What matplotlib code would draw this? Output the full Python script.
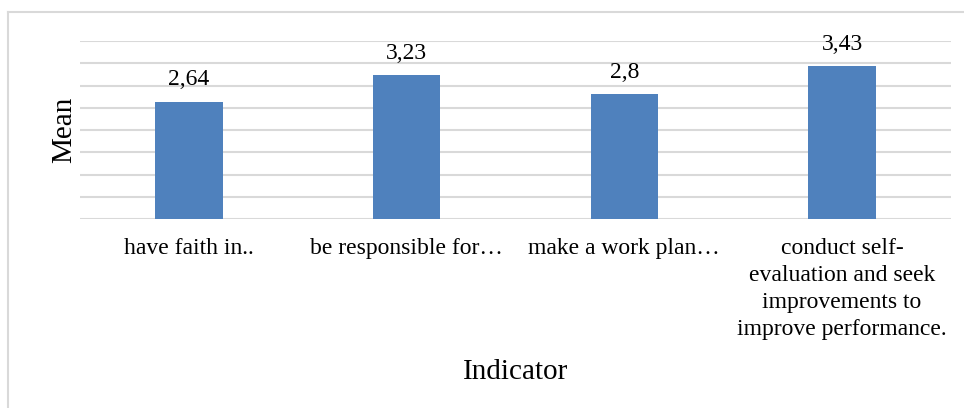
import matplotlib
matplotlib.use("Agg")
import matplotlib.pyplot as plt
from matplotlib.lines import Line2D

plt.rcParams["font.family"] = ["Liberation Serif", "DejaVu Serif"]

categories = [
    "have faith in..",
    "be responsible for…",
    "make a work plan…",
    "conduct self-\nevaluation and seek\nimprovements to\nimprove performance.",
]
means = [2.64, 3.23, 2.8, 3.43]
value_labels = ["2,64", "3,23", "2,8", "3,43"]

W, H = 964, 408
fig = plt.figure(figsize=(W / 100, H / 100), dpi=100)
fig.patch.set_facecolor("white")

# light outer frame (top and left edges visible)
frame_col = "#d9d9d9"
fig.add_artist(Line2D([8 / W, 8 / W], [0, 1 - 12 / H], transform=fig.transFigure,
                      color=frame_col, lw=1.5))
fig.add_artist(Line2D([8 / W, 1], [1 - 12 / H, 1 - 12 / H], transform=fig.transFigure,
                      color=frame_col, lw=1.5))

ax = fig.add_axes([80 / W, (H - 219) / H, (951 - 80) / W, (219 - 41) / H])
x = range(len(categories))
bars = ax.bar(x, means, width=0.31, color="#4f81bd", zorder=3)

for rect, txt in zip(bars, value_labels):
    ax.annotate(txt, (rect.get_x() + rect.get_width() / 2, rect.get_height()),
                xytext=(0, 8), textcoords="offset points",
                ha="center", va="bottom", fontsize=17)

ax.set_xlim(-0.5, len(categories) - 0.5)
ax.set_ylim(0, 4)
ax.set_yticks([i * 0.5 for i in range(9)])
ax.yaxis.grid(True, color=frame_col, lw=1.5, zorder=0)
ax.tick_params(axis="y", left=False, labelleft=False)
ax.tick_params(axis="x", bottom=False, pad=10, labelsize=17)
ax.set_xticks(list(x))
ax.set_xticklabels(categories, linespacing=1.37, va="top")
for s in ax.spines.values():
    s.set_visible(False)

ax.set_ylabel("Mean", fontsize=21, labelpad=2)
ax.set_xlabel("Indicator", fontsize=21, labelpad=14)

fig.savefig("out.png", dpi=100, facecolor="white")
